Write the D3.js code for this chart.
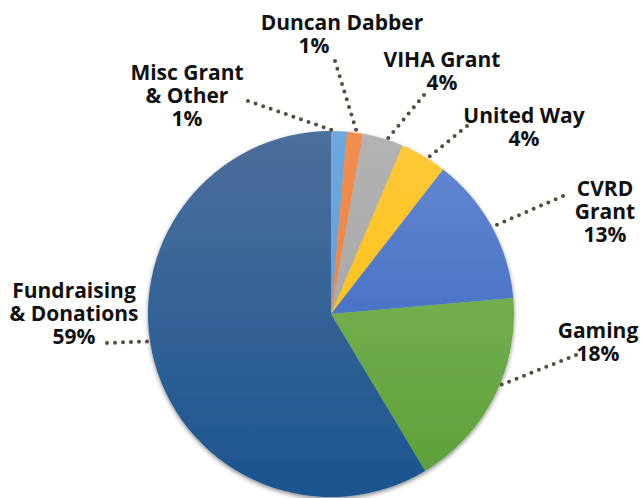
<!DOCTYPE html>
<html>
<head>
<meta charset="utf-8">
<script src="https://cdn.jsdelivr.net/npm/d3@7"></script>
<style>
  html, body { margin: 0; padding: 0; background: #ffffff; }
  svg { display: block; }
  .lbl { font-family: "Open Sans", "DejaVu Sans", sans-serif; font-weight: 700; font-size: 21px; fill: #111111; }
</style>
</head>
<body>
<svg id="chart" width="643" height="498"></svg>
<script>
// ---- data ----
const categories = ["Misc Grant & Other", "Duncan Dabber", "VIHA Grant", "United Way", "CVRD Grant", "Gaming", "Fundraising & Donations"];
const values = [1.4, 1.4, 3.6, 4.1, 13.1, 17.8, 58.6];
const labelLines = [
  ["Misc Grant", "& Other"],
  ["Duncan Dabber"],
  ["VIHA Grant"],
  ["United Way"],
  ["CVRD", "Grant"],
  ["Gaming"],
  ["Fundraising", "& Donations"]
];

// ---- styles ----
const gradTop =    ["#6ea9de", "#f28d50", "#b3b3b3", "#ffc938", "#6689d2", "#84ba63", "#4c6f9c"];
const gradBottom = ["#5897d2", "#ea7a2c", "#a0a0a0", "#fbbd06", "#2f60bb", "#5c9f36", "#1b5590"];

// ---- layout (label anchor = centre x and first baseline; leader outer end; leader angle shift in degrees) ----
const layout = [
  { x: 187, y: 80,  lineX: null, ex: 248, ey: 101, shift: -1.3 },
  { x: 342, y: 30,  lineX: [342, 314], ex: 335, ey: 61, shift: 0.6 },
  { x: 442, y: 67,  lineX: null, ex: 424, ey: 95,  shift: 1.2 },
  { x: 524, y: 123, lineX: null, ex: 467, ey: 126, shift: 1.3 },
  { x: 605, y: 196, lineX: null, ex: 563, ey: 196, shift: 0.2 },
  { x: 598, y: 338, lineX: null, ex: 576, ey: 355, shift: -4.0 },
  { x: 74,  y: 298, lineX: null, ex: 107, ey: 343, shift: 6.9 }
];
const lineHeight = 23;

const cx = 331, cy = 314, R = 183;
const svg = d3.select("#chart");
const defs = svg.append("defs");

const shadow = defs.append("filter").attr("id", "shadow")
  .attr("x", "-10%").attr("y", "-10%").attr("width", "120%").attr("height", "120%");
shadow.append("feDropShadow").attr("dx", 0).attr("dy", 2).attr("stdDeviation", 2)
  .attr("flood-color", "#000").attr("flood-opacity", 0.45);

categories.forEach((c, i) => {
  const g = defs.append("linearGradient").attr("id", "g" + i)
    .attr("gradientUnits", "userSpaceOnUse")
    .attr("x1", 0).attr("x2", 0).attr("y1", -R).attr("y2", R);
  g.append("stop").attr("offset", "0%").attr("stop-color", gradTop[i]);
  g.append("stop").attr("offset", "100%").attr("stop-color", gradBottom[i]);
});

const pie = d3.pie().sort(null).value(d => d)(values);
const arc = d3.arc().innerRadius(0).outerRadius(R);

const pg = svg.append("g").attr("transform", `translate(${cx},${cy})`);
pg.append("g").attr("filter", "url(#shadow)")
  .selectAll("path").data(pie).join("path")
  .attr("d", arc)
  .attr("fill", (d, i) => `url(#g${i})`);

// leaders
const total = d3.sum(values);
pie.forEach((d, i) => {
  const L = layout[i];
  const a = (d.startAngle + d.endAngle) / 2 + L.shift * Math.PI / 180;
  const ix = cx + R * Math.sin(a), iy = cy - R * Math.cos(a);
  svg.append("line")
    .attr("x1", L.ex).attr("y1", L.ey).attr("x2", ix).attr("y2", iy)
    .attr("stroke", "#5a4b3f").attr("stroke-width", 4)
    .attr("stroke-linecap", "round").attr("stroke-dasharray", "0 8");
});

// labels
categories.forEach((c, i) => {
  const L = layout[i];
  const lines = labelLines[i].concat([Math.round(values[i] / total * 100) + "%"]);
  const t = svg.append("text").attr("class", "lbl").attr("text-anchor", "middle");
  lines.forEach((ln, j) => {
    t.append("tspan")
      .attr("x", L.lineX ? L.lineX[j] : L.x)
      .attr("y", L.y + j * lineHeight)
      .text(ln);
  });
});
</script>
</body>
</html>
